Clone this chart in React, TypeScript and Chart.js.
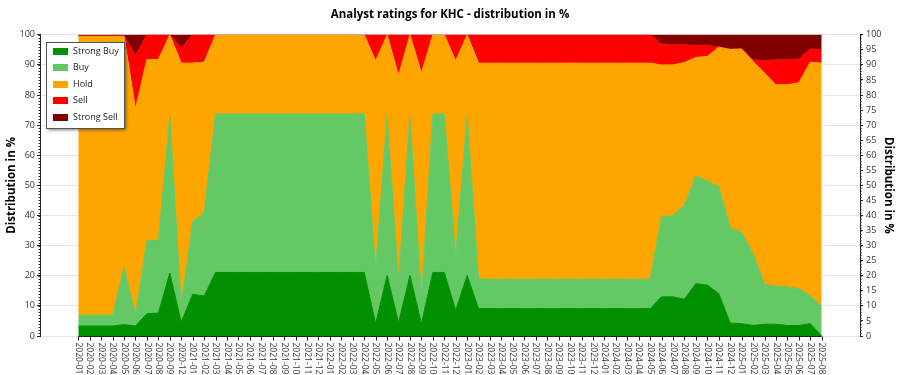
import React, { useEffect, useRef } from 'react';
import { Chart, registerables } from 'chart.js';

Chart.register(...registerables);

const months = [
  '2020-01', '2020-02', '2020-03', '2020-04', '2020-05', '2020-06', '2020-07', '2020-08', '2020-09', '2020-12',
  '2021-01', '2021-02', '2021-03', '2021-04', '2021-05', '2021-06', '2021-07', '2021-08', '2021-09', '2021-10',
  '2021-11', '2021-12', '2022-01', '2022-02', '2022-03', '2022-04', '2022-05', '2022-06', '2022-07', '2022-08',
  '2022-09', '2022-10', '2022-11', '2022-12', '2023-01', '2023-02', '2023-03', '2023-04', '2023-05', '2023-06',
  '2023-07', '2023-08', '2023-09', '2023-10', '2023-11', '2023-12', '2024-01', '2024-02', '2024-03', '2024-04',
  '2024-05', '2024-06', '2024-07', '2024-08', '2024-09', '2024-10', '2024-11', '2024-12', '2025-01', '2025-02',
  '2025-03', '2025-04', '2025-05', '2025-06', '2025-07', '2025-08',
];

const strongBuy = [
  3.3, 3.3, 3.3, 3.3, 3.8, 3.3, 7.4, 7.6, 20.9, 4.6,
  13.8, 13.3, 21.1, 21.1, 21.1, 21.1, 21.1, 21.1, 21.1, 21.1,
  21.1, 21.1, 21.1, 21.1, 21.1, 21.1, 4.1, 20.1, 4.4, 20.1,
  4.1, 21.1, 21.1, 8.5, 20.1, 9.1, 9.1, 9.1, 9.1, 9.1,
  9.1, 9.1, 9.1, 9.1, 9.1, 9.1, 9.1, 9.1, 9.1, 9.1,
  9.1, 13.0, 13.0, 12.2, 17.4, 16.9, 14.1, 4.3, 4.1, 3.5,
  3.9, 3.9, 3.5, 3.5, 4.1, 0,
];

const buy = [
  3.6, 3.6, 3.6, 3.6, 19.1, 3.6, 24.3, 24.1, 52.1, 5.6,
  24.2, 27.5, 52.6, 52.6, 52.6, 52.6, 52.6, 52.6, 52.6, 52.6,
  52.6, 52.6, 52.6, 52.6, 52.6, 52.6, 18.0, 52.9, 14.1, 52.6,
  8.8, 52.6, 52.6, 17.7, 52.9, 9.9, 9.7, 9.7, 9.7, 9.7,
  9.7, 9.7, 9.7, 9.7, 9.7, 9.7, 9.7, 9.7, 9.7, 9.7,
  9.7, 26.6, 26.9, 31.3, 35.8, 34.5, 35.5, 31.6, 30.3, 23.9,
  13.2, 12.6, 12.8, 12.2, 9.4, 9.6,
];

const hold = [
  92.6, 92.6, 92.6, 92.6, 76.6, 68.5, 60.1, 60.1, 27.0, 80.4,
  52.6, 50.1, 26.3, 26.3, 26.3, 26.3, 26.3, 26.3, 26.3, 26.3,
  26.3, 26.3, 26.3, 26.3, 26.3, 26.3, 69.2, 27.0, 68.0, 27.3,
  74.4, 26.3, 26.3, 65.1, 27.0, 71.6, 71.8, 71.8, 71.8, 71.8,
  71.8, 71.8, 71.8, 71.8, 71.8, 71.8, 71.8, 71.8, 71.8, 71.8,
  71.8, 50.4, 50.1, 47.3, 39.3, 41.4, 46.3, 59.2, 60.9, 63.7,
  70.2, 66.9, 67.1, 68.4, 77.4, 81.0,
];

const sell = [
  0, 0, 0, 0, 0, 17.7, 8.2, 8.2, 0, 5.0,
  9.4, 9.1, 0, 0, 0, 0, 0, 0, 0, 0,
  0, 0, 0, 0, 0, 0, 8.7, 0, 13.5, 0,
  12.7, 0, 0, 8.7, 0, 9.4, 9.4, 9.4, 9.4, 9.4,
  9.4, 9.4, 9.4, 9.4, 9.4, 9.4, 9.4, 9.4, 9.4, 9.4,
  9.4, 6.9, 6.7, 5.9, 4.0, 3.7, 0, 0.2, 0, 0.6,
  4.1, 8.3, 8.3, 7.9, 4.4, 4.4,
];

const strongSell = [
  0.5, 0.5, 0.5, 0.5, 0.5, 6.9, 0, 0, 0, 4.4,
  0, 0, 0, 0, 0, 0, 0, 0, 0, 0,
  0, 0, 0, 0, 0, 0, 0, 0, 0, 0,
  0, 0, 0, 0, 0, 0, 0, 0, 0, 0,
  0, 0, 0, 0, 0, 0, 0, 0, 0, 0,
  0, 3.1, 3.3, 3.3, 3.5, 3.5, 4.1, 4.7, 4.7, 8.3,
  8.6, 8.3, 8.3, 8.0, 4.7, 5.0,
];

const seriesNames = ['Strong Buy', 'Buy', 'Hold', 'Sell', 'Strong Sell'];
const seriesColors = ['#009000', '#64c864', '#ffa500', '#ff0000', '#800000'];
const seriesValues = [strongBuy, buy, hold, sell, strongSell];

const chartTitle = 'Analyst ratings for KHC - distribution in %';
const axisTitle = 'Distribution in %';

const FONT = '"Open Sans", "Noto Sans", sans-serif';

const customAxisPlugin = {
  id: 'customAxis',
  afterDraw(chart: any) {
    const { ctx, chartArea, scales } = chart;
    const xs = scales.x;
    const yl = scales.y;
    const yr = scales.y2;
    const yb = Math.round(chartArea.bottom) + 0.5;
    ctx.save();
    ctx.strokeStyle = '#222';
    ctx.lineWidth = 1;
    const x0 = xs.getPixelForValue(0);
    const x1 = xs.getPixelForValue(months.length - 1);
    ctx.beginPath();
    ctx.moveTo(x0, yb);
    ctx.lineTo(x1, yb);
    ctx.stroke();
    ctx.beginPath();
    months.forEach((_, i) => {
      const x = Math.round(xs.getPixelForValue(i)) + 0.5;
      ctx.moveTo(x, yb);
      ctx.lineTo(x, yb + 4);
    });
    ctx.stroke();
    ctx.beginPath();
    for (let v = 0; v <= 100; v++) {
      const yl1 = Math.round(yl.getPixelForValue(v)) + 0.5;
      ctx.moveTo(chartArea.left, yl1);
      ctx.lineTo(chartArea.left - 1.5, yl1);
      const yr1 = Math.round(yr.getPixelForValue(v)) + 0.5;
      ctx.moveTo(chartArea.right, yr1);
      ctx.lineTo(chartArea.right + 1.5, yr1);
    }
    ctx.stroke();
    ctx.fillStyle = '#333';
    ctx.font = `8.5px ${FONT}`;
    ctx.textAlign = 'left';
    ctx.textBaseline = 'middle';
    months.forEach((m, i) => {
      const x = xs.getPixelForValue(i);
      ctx.save();
      ctx.translate(x, yb + 6);
      ctx.rotate(Math.PI / 2);
      ctx.fillText(m, 0, 0);
      ctx.restore();
    });
    ctx.restore();
  },
};

const legendBoxPlugin = {
  id: 'legendBox',
  afterDraw(chart: any) {
    const { ctx, chartArea } = chart;
    const bx = Math.round(chartArea.left) + 6;
    const by = Math.round(chartArea.top) + 7;
    const bw = 78;
    const bh = 86;
    ctx.save();
    ctx.shadowColor = 'rgba(0,0,0,0.5)';
    ctx.shadowBlur = 3;
    ctx.shadowOffsetX = 2;
    ctx.shadowOffsetY = 2;
    ctx.fillStyle = '#ffffff';
    ctx.fillRect(bx, by, bw, bh);
    ctx.restore();
    ctx.save();
    ctx.strokeStyle = '#555';
    ctx.lineWidth = 1;
    ctx.strokeRect(bx + 0.5, by + 0.5, bw, bh);
    ctx.font = `9px ${FONT}`;
    ctx.textBaseline = 'middle';
    ctx.textAlign = 'left';
    chart.data.datasets.forEach((ds: any, k: number) => {
      const cy = by + 9.5 + 16.4 * k;
      ctx.fillStyle = ds.backgroundColor;
      ctx.fillRect(bx + 7, Math.round(cy - 3.5), 15, 7);
      ctx.fillStyle = '#222';
      ctx.fillText(ds.label, bx + 27, cy);
    });
    ctx.restore();
  },
};

export default function App() {
  const canvasRef = useRef<HTMLCanvasElement | null>(null);

  useEffect(() => {
    document.body.style.margin = '0';
    const canvas = canvasRef.current;
    if (!canvas) return;
    const datasets = seriesNames.map((name, k) => ({
      label: name,
      data: seriesValues[k].map((v, i) => ({ x: i, y: v })),
      backgroundColor: seriesColors[k],
      borderColor: seriesColors[k],
      borderWidth: 1,
      pointRadius: 0,
      pointHoverRadius: 0,
      tension: 0,
      fill: k === 0 ? 'origin' : '-1',
    }));

    const chart = new Chart(canvas, {
      type: 'line',
      data: { datasets },
      options: {
        animation: false,
        responsive: false,
        maintainAspectRatio: false,
        layout: { padding: { top: 0, bottom: 39, left: 0, right: 0 } },
        plugins: {
          legend: { display: false },
          tooltip: { enabled: false },
          title: {
            display: true,
            text: chartTitle,
            color: '#000',
            font: { family: FONT, size: 11.5, weight: 'bold' },
            padding: { top: 8, bottom: 13 },
          },
        },
        scales: {
          x: {
            type: 'linear',
            display: false,
            min: -3.35,
            max: 68.35,
          },
          y: {
            type: 'linear',
            position: 'left',
            stacked: true,
            min: 0,
            max: 100,
            afterFit: (s: any) => { s.width = 40; },
            ticks: {
              stepSize: 10,
              color: '#333',
              padding: 2,
              font: { family: FONT, size: 9 },
            },
            grid: {
              color: '#e6e6e6',
              tickColor: '#222',
              tickLength: 3,
            },
            border: { color: '#222', width: 1 },
            title: {
              display: true,
              text: axisTitle,
              color: '#000',
              font: { family: FONT, size: 11.5, weight: 'bold' },
              padding: { top: 5, bottom: 0 },
            },
          },
          y2: {
            type: 'linear',
            position: 'right',
            min: 0,
            max: 100,
            afterFit: (s: any) => { s.width = 40; },
            ticks: {
              stepSize: 5,
              color: '#333',
              padding: 3,
              font: { family: FONT, size: 9 },
            },
            grid: {
              drawOnChartArea: false,
              tickColor: '#222',
              tickLength: 3,
            },
            border: { color: '#222', width: 1 },
            title: {
              display: true,
              text: axisTitle,
              color: '#000',
              font: { family: FONT, size: 11.5, weight: 'bold' },
              padding: { top: 5, bottom: 0 },
            },
          },
        },
      } as any,
      plugins: [customAxisPlugin, legendBoxPlugin],
    });
    return () => chart.destroy();
  }, []);

  return (
    <div style={{ position: 'fixed', left: 0, top: 0, width: 900, height: 375, background: '#fff' }}>
      <canvas ref={canvasRef} width={900} height={375} style={{ width: 900, height: 375, display: 'block' }} />
    </div>
  );
}
